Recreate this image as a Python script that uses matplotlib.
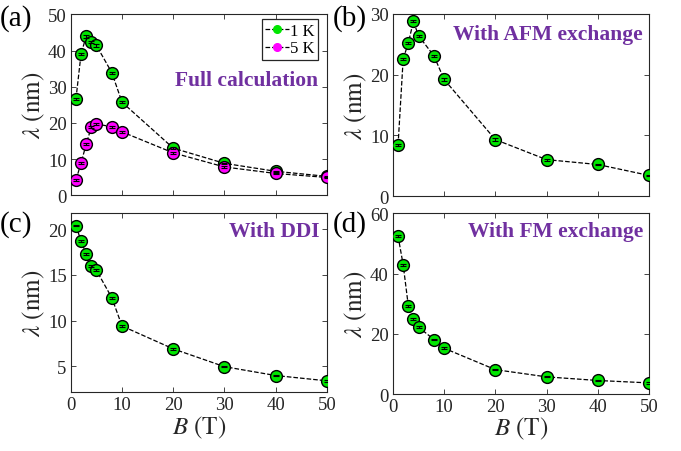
import numpy as np
from matplotlib import pyplot as plt
from matplotlib.lines import Line2D

# magnetic field values (T), shared by all panels
B = [1, 2, 3, 4, 5, 8, 10, 20, 30, 40, 50]

# (a) full calculation
lam_a_1K = [26.6, 39.1, 43.9, 42.3, 41.4, 33.9, 25.7, 13.0, 8.8, 6.6, 5.2]
lam_a_5K = [4.2, 8.9, 14.1, 18.8, 19.7, 18.9, 17.5, 11.7, 7.8, 6.0, 4.9]
err_a_1K = [0.3, 0.3, 0.3, 0.3, 0.3, 0.3, 0.3, 0.3, 0.2, 0.2, 0.2]
err_a_5K = [0.3, 0.3, 0.3, 0.3, 0.3, 0.3, 0.3, 0.3, 0.2, 0.2, 0.2]

# (b) with AFM exchange
lam_b = [8.4, 22.6, 25.2, 28.8, 26.4, 23.1, 19.2, 9.3, 6.0, 5.2, 3.4]
err_b = [0.2, 0.2, 0.2, 0.2, 0.2, 0.2, 0.2, 0.2, 0.15, 0.15, 0.15]

# (c) with DDI
lam_c = [20.4, 18.7, 17.3, 16.0, 15.5, 12.5, 9.4, 6.9, 4.95, 3.98, 3.4]
err_c = [0.1, 0.1, 0.1, 0.1, 0.1, 0.1, 0.1, 0.1, 0.08, 0.08, 0.08]

# (d) with FM exchange
lam_d = [52.4, 42.9, 29.3, 25.0, 22.2, 18.1, 15.2, 8.1, 5.7, 4.5, 3.7]
err_d = [0.3, 0.3, 0.3, 0.3, 0.3, 0.3, 0.3, 0.25, 0.2, 0.2, 0.2]

GREEN = "#00e600"
MAGENTA = "#ff00ff"
PURPLE = "#7030a0"
AXCOL = "#262626"

plt.rcParams["font.family"] = ["Liberation Serif", "DejaVu Serif"]
plt.rcParams["mathtext.fontset"] = "stix"


def draw_series(ax, y, err, color):
    ax.plot(B, y, "--", color="black", lw=0.9, zorder=2)
    ax.plot(B, y, "o", ls="none", ms=8.5, mfc=color, mec="black", mew=1.0, zorder=3)
    ax.errorbar(B, y, yerr=err, fmt="none", ecolor="black", elinewidth=0.8,
                capsize=2.5, capthick=0.8, zorder=4)


def style_axes(ax, yticks, ylim, bottom_row):
    ax.set_xlim(0, 50)
    ax.set_ylim(*ylim)
    ax.set_xticks([0, 10, 20, 30, 40, 50])
    ax.set_yticks(yticks)
    ax.tick_params(direction="in", top=True, right=True, length=3.5, width=0.6,
                   colors=AXCOL, labelsize=13.5, pad=3)
    for s in ax.spines.values():
        s.set_color(AXCOL)
        s.set_linewidth(0.8)
    if bottom_row:
        ax.set_xlabel(r"$B\ \mathrm{(T)}$", fontsize=18, color=AXCOL, labelpad=0)
    else:
        ax.set_xticklabels([])
    ax.set_ylabel(r"$\lambda\ \mathrm{(nm)}$", fontsize=18, color=AXCOL, labelpad=1)


fig = plt.figure(figsize=(6.81, 4.52), dpi=100)
ax_a = fig.add_axes([0.104, 0.566, 0.376, 0.400])
ax_b = fig.add_axes([0.577, 0.564, 0.376, 0.403])
ax_c = fig.add_axes([0.104, 0.130, 0.376, 0.397])
ax_d = fig.add_axes([0.577, 0.126, 0.376, 0.400])

draw_series(ax_a, lam_a_1K, err_a_1K, GREEN)
draw_series(ax_a, lam_a_5K, err_a_5K, MAGENTA)
style_axes(ax_a, [0, 10, 20, 30, 40, 50], (0, 50), False)
handles = [Line2D([], [], ls="--", color="black", lw=0.9, marker="o", ms=5.5,
                  mfc=GREEN, mec=GREEN),
           Line2D([], [], ls="--", color="black", lw=0.9, marker="o", ms=5.5,
                  mfc=MAGENTA, mec=MAGENTA)]
leg = ax_a.legend(handles, ["1 K", "5 K"], loc="upper right", fontsize=12,
                  handlelength=1.4, handletextpad=0.1, borderpad=0.2,
                  labelspacing=0.1, borderaxespad=0.0, fancybox=False,
                  framealpha=1, bbox_to_anchor=(0.966, 0.972))
leg.get_frame().set_edgecolor(AXCOL)
leg.get_frame().set_linewidth(0.9)
ax_a.text(0.965, 0.635, "Full calculation", transform=ax_a.transAxes, ha="right",
          va="center", fontsize=15.5, fontweight="bold", color=PURPLE)

draw_series(ax_b, lam_b, err_b, GREEN)
style_axes(ax_b, [0, 10, 20, 30], (0, 30), False)
ax_b.text(0.977, 0.89, "With AFM exchange", transform=ax_b.transAxes, ha="right",
          va="center", fontsize=15.5, fontweight="bold", color=PURPLE)

draw_series(ax_c, lam_c, err_c, GREEN)
style_axes(ax_c, [5, 10, 15, 20], (2.15, 21.8), True)
ax_c.text(0.973, 0.9, "With DDI", transform=ax_c.transAxes, ha="right",
          va="center", fontsize=15.5, fontweight="bold", color=PURPLE)

draw_series(ax_d, lam_d, err_d, GREEN)
style_axes(ax_d, [0, 20, 40, 60], (0, 60), True)
ax_d.text(0.977, 0.9, "With FM exchange", transform=ax_d.transAxes, ha="right",
          va="center", fontsize=15.5, fontweight="bold", color=PURPLE)

# panel letters
for lbl, x, y in [("(a)", 0.0, 0.958), ("(b)", 0.489, 0.958),
                  ("(c)", 0.0, 0.503), ("(d)", 0.489, 0.503)]:
    fig.text(x, y, lbl, fontsize=21, color="black", ha="left", va="center")

fig.savefig("out.png", dpi=100)
